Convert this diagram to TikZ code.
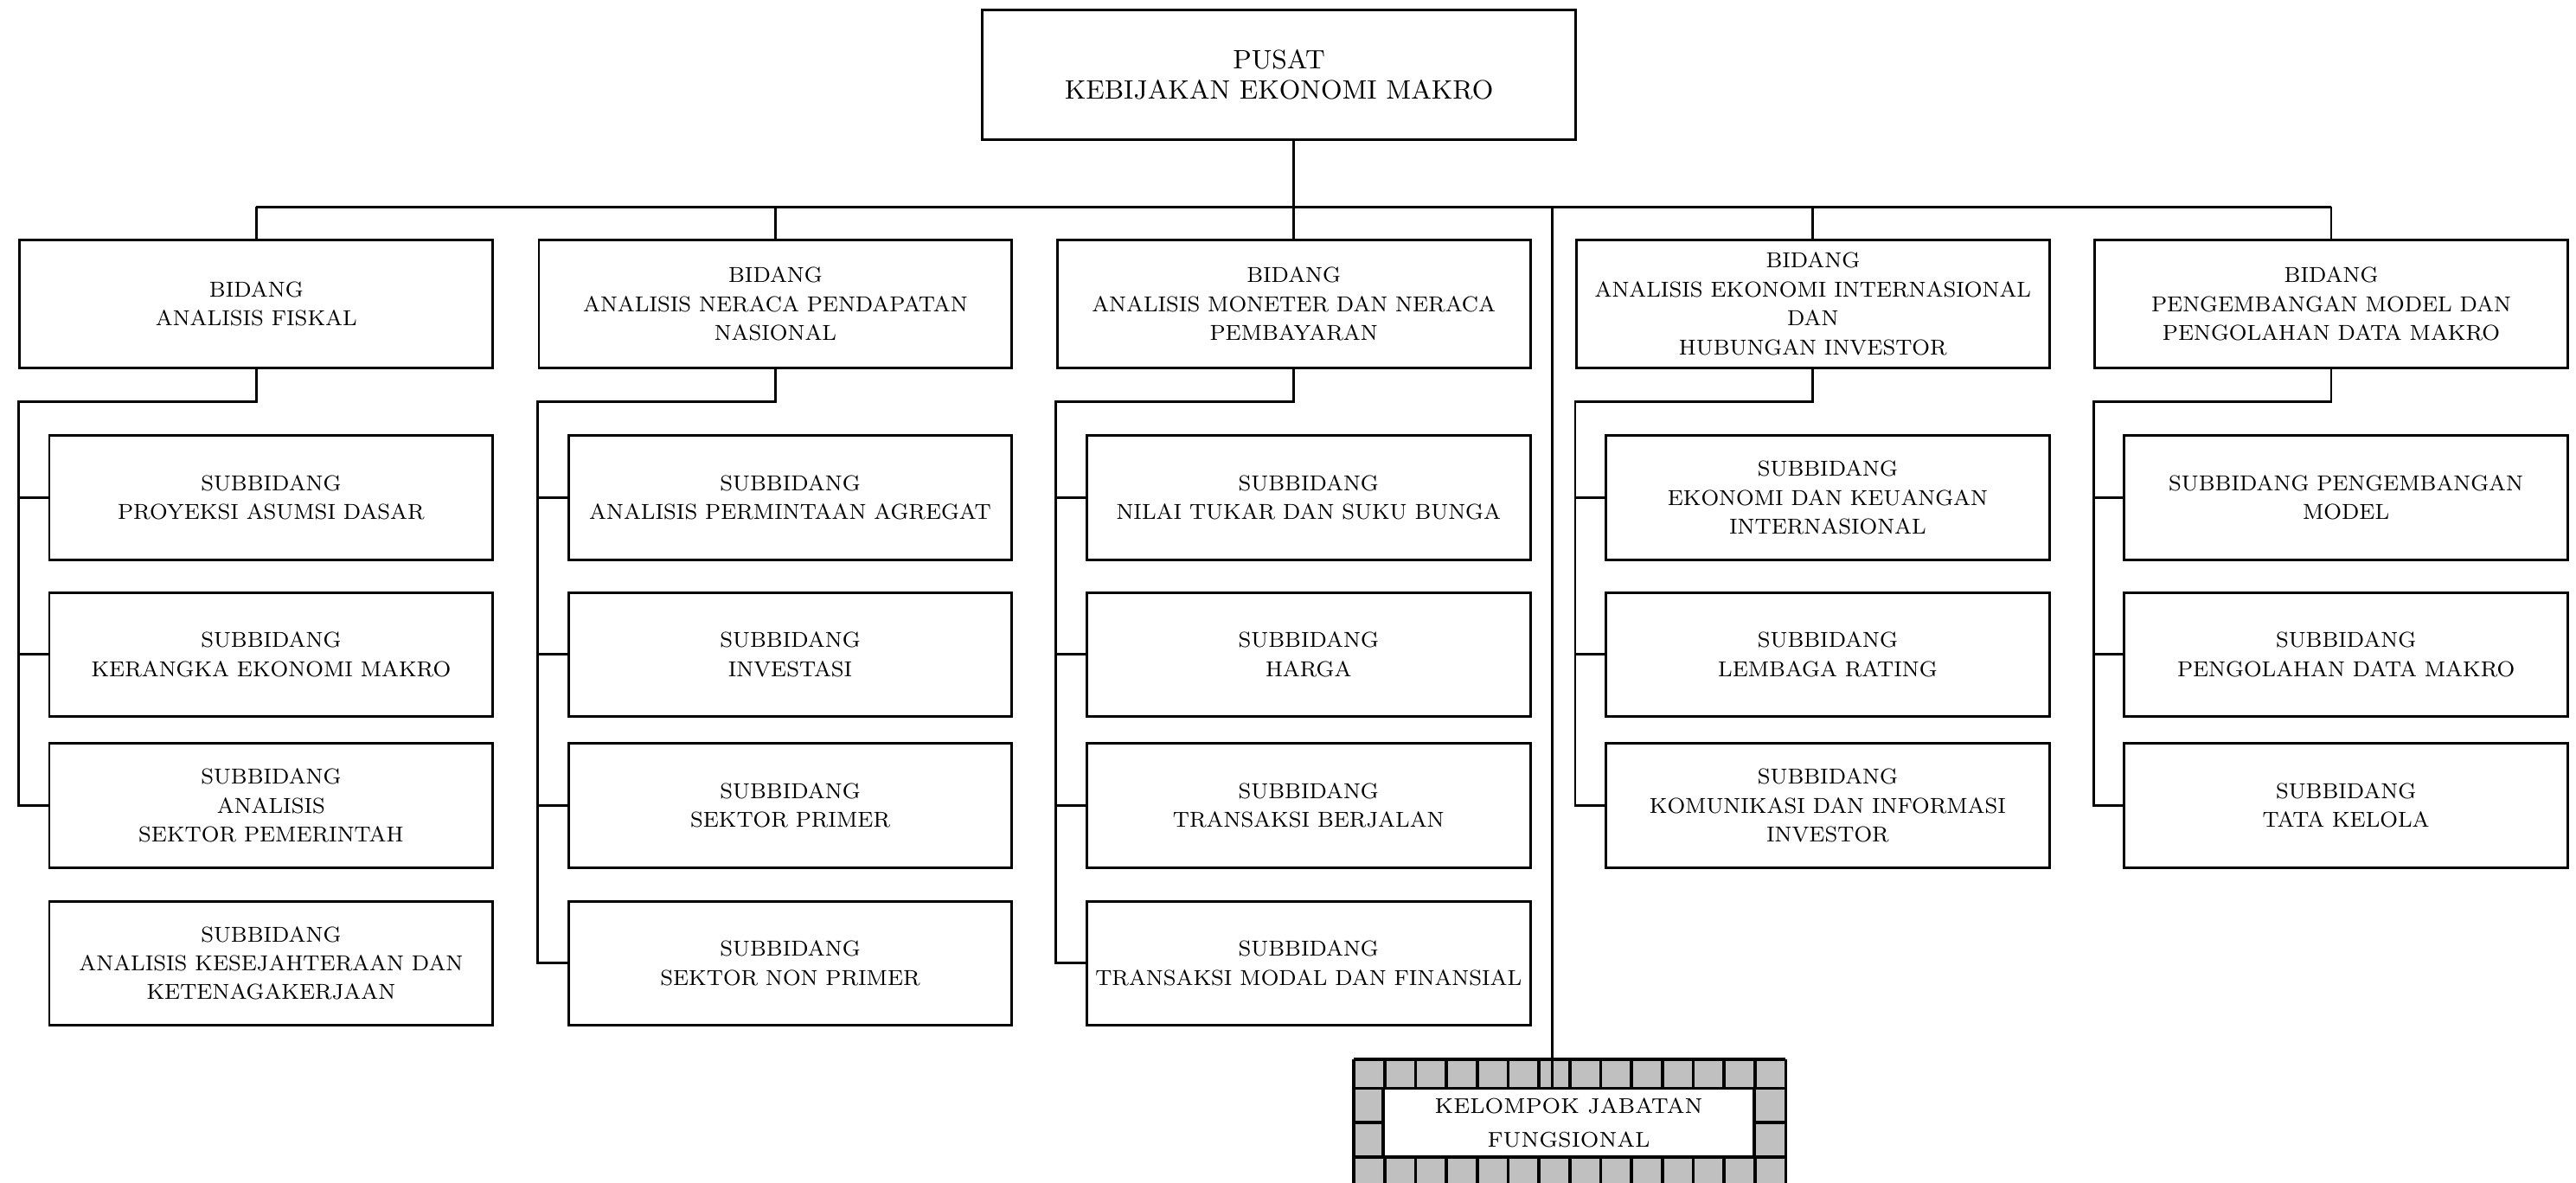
\documentclass[tikz,border=0pt]{standalone}
\usepackage{xcolor}
\usepackage{tikz}

\definecolor{brickgray}{RGB}{192,192,192}

\begin{document}
\begin{tikzpicture}[
    x=0.02cm, y=-0.02cm,
    pusat/.style={rectangle, draw=black, line width=0.85pt, align=center, inner sep=0pt, minimum width=7.22cm, minimum height=1.58cm, font=\fontsize{9.2}{10.5}\selectfont},
    bidang/.style={rectangle, draw=black, line width=0.85pt, align=center, inner sep=0pt, minimum width=5.76cm, minimum height=1.56cm, font=\fontsize{7.5}{10}\selectfont},
    subbid/.style={rectangle, draw=black, line width=0.85pt, align=center, inner sep=0pt, minimum width=5.4cm, minimum height=1.51cm, font=\fontsize{7.5}{10}\selectfont},
    jfbox/.style={rectangle, draw=black, fill=white, line width=1.1pt, align=center, inner sep=0pt, minimum width=4.52cm, minimum height=0.84cm, font=\fontsize{7.4}{11.4}\selectfont},
    link/.style={draw=black, line width=0.85pt},
    brick/.style={draw=black, line width=1.1pt}
]
\useasboundingbox (0,0) rectangle (1568,720);

% pusat dan bidang
\node[pusat] (pusat) at (778.5,45.5) {PUSAT\\KEBIJAKAN EKONOMI MAKRO};
\node[bidang] (b1) at (156,185)    {BIDANG\\ANALISIS FISKAL};
\node[bidang] (b2) at (472,185)    {BIDANG\\ANALISIS NERACA PENDAPATAN\\NASIONAL};
\node[bidang] (b3) at (787.5,185)  {BIDANG\\ANALISIS MONETER DAN NERACA\\PEMBAYARAN};
\node[bidang] (b4) at (1103.5,185) {BIDANG\\ANALISIS EKONOMI INTERNASIONAL\\DAN\\HUBUNGAN INVESTOR};
\node[bidang] (b5) at (1419,185)   {BIDANG\\PENGEMBANGAN MODEL DAN\\PENGOLAHAN DATA MAKRO};

% subbidang
\node[subbid] (s11) at (165,303)   {SUBBIDANG\\PROYEKSI ASUMSI DASAR};
\node[subbid] (s12) at (165,398.5) {SUBBIDANG\\KERANGKA EKONOMI MAKRO};
\node[subbid] (s13) at (165,490.5) {SUBBIDANG\\ANALISIS\\SEKTOR PEMERINTAH};
\node[subbid] (s14) at (165,586.5) {SUBBIDANG\\ANALISIS KESEJAHTERAAN DAN\\KETENAGAKERJAAN};

\node[subbid] (s21) at (481,303)   {SUBBIDANG\\ANALISIS PERMINTAAN AGREGAT};
\node[subbid] (s22) at (481,398.5) {SUBBIDANG\\INVESTASI};
\node[subbid] (s23) at (481,490.5) {SUBBIDANG\\SEKTOR PRIMER};
\node[subbid] (s24) at (481,586.5) {SUBBIDANG\\SEKTOR NON PRIMER};

\node[subbid] (s31) at (796.5,303)   {SUBBIDANG\\NILAI TUKAR DAN SUKU BUNGA};
\node[subbid] (s32) at (796.5,398.5) {SUBBIDANG\\HARGA};
\node[subbid] (s33) at (796.5,490.5) {SUBBIDANG\\TRANSAKSI BERJALAN};
\node[subbid] (s34) at (796.5,586.5) {SUBBIDANG\\TRANSAKSI MODAL DAN FINANSIAL};

\node[subbid] (s41) at (1112.5,303)   {SUBBIDANG\\EKONOMI DAN KEUANGAN\\INTERNASIONAL};
\node[subbid] (s42) at (1112.5,398.5) {SUBBIDANG\\LEMBAGA RATING};
\node[subbid] (s43) at (1112.5,490.5) {SUBBIDANG\\KOMUNIKASI DAN INFORMASI\\INVESTOR};

\node[subbid] (s51) at (1428,303)   {SUBBIDANG PENGEMBANGAN\\MODEL};
\node[subbid] (s52) at (1428,398.5) {SUBBIDANG\\PENGOLAHAN DATA MAKRO};
\node[subbid] (s53) at (1428,490.5) {SUBBIDANG\\TATA KELOLA};

% kelompok jabatan fungsional
\begin{scope}
\clip (0,0) rectangle (1568,720);
\fill[brickgray] (824,645) rectangle (1087,726);
\foreach \k in {0,...,14} {
  \draw[brick] (824+\k*18.786,645) -- (824+\k*18.786,662.7);
  \draw[brick] (824+\k*18.786,704.6) -- (824+\k*18.786,726);
}
\draw[brick] (824,645) -- (1087,645);
\draw[brick] (824,662.7) -- (1087,662.7);
\draw[brick] (824,704.6) -- (1087,704.6);
\draw[brick] (824,683.5) -- (841.8,683.5);
\draw[brick] (1068,683.5) -- (1087,683.5);
\draw[brick] (824,645) -- (824,726);
\draw[brick] (1087,645) -- (1087,726);
\node[jfbox] (jf) at (954.9,683.65) {KELOMPOK JABATAN\\FUNGSIONAL};
\end{scope}

% garis
\coordinate (bus) at (0,126);
\coordinate (jftap) at (945,645);
\draw[link] (b3.north |- pusat.south) -- (b3.north |- bus);
\draw[link] (b1.north |- bus) -- (b5.north |- bus);
\draw[link] (b1.north) -- (b1.north |- bus);
\draw[link] (b2.north) -- (b2.north |- bus);
\draw[link] (b3.north) -- (b3.north |- bus);
\draw[link] (b4.north) -- (b4.north |- bus);
\draw[link] (b5.north) -- (b5.north |- bus);
\draw[link] (jftap |- bus) -- (jftap |- jf.north);

\draw[link] (b1.south) -- ++(0,20) -| (b1.west |- s13.west) -- (s13.west);
\draw[link] (b1.west |- s11.west) -- (s11.west);
\draw[link] (b1.west |- s12.west) -- (s12.west);

\draw[link] (b2.south) -- ++(0,20) -| (b2.west |- s24.west) -- (s24.west);
\draw[link] (b2.west |- s21.west) -- (s21.west);
\draw[link] (b2.west |- s22.west) -- (s22.west);
\draw[link] (b2.west |- s23.west) -- (s23.west);

\draw[link] (b3.south) -- ++(0,20) -| (b3.west |- s34.west) -- (s34.west);
\draw[link] (b3.west |- s31.west) -- (s31.west);
\draw[link] (b3.west |- s32.west) -- (s32.west);
\draw[link] (b3.west |- s33.west) -- (s33.west);

\draw[link] (b4.south) -- ++(0,20) -| (b4.west |- s43.west) -- (s43.west);
\draw[link] (b4.west |- s41.west) -- (s41.west);
\draw[link] (b4.west |- s42.west) -- (s42.west);

\draw[link] (b5.south) -- ++(0,20) -| (b5.west |- s53.west) -- (s53.west);
\draw[link] (b5.west |- s51.west) -- (s51.west);
\draw[link] (b5.west |- s52.west) -- (s52.west);
\end{tikzpicture}
\end{document}
